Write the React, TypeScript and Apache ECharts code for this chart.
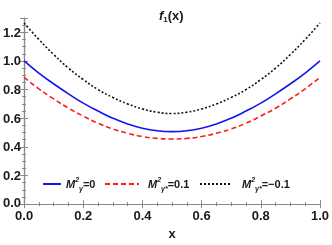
import React, { useEffect, useRef } from "react";
import * as echarts from "echarts";

const xs = [0, 0.05, 0.1, 0.15, 0.2, 0.25, 0.3, 0.35, 0.4, 0.45, 0.5, 0.55, 0.6, 0.65, 0.7, 0.75, 0.8, 0.85, 0.9, 0.95, 1.0];
const blueVals = [1.0, 0.915, 0.84, 0.77, 0.705, 0.65, 0.6, 0.56, 0.53, 0.512, 0.506, 0.512, 0.53, 0.56, 0.6, 0.65, 0.705, 0.77, 0.84, 0.915, 1.0];
const redVals = [0.885, 0.805, 0.735, 0.67, 0.615, 0.565, 0.525, 0.495, 0.472, 0.459, 0.455, 0.459, 0.472, 0.495, 0.525, 0.565, 0.615, 0.67, 0.735, 0.805, 0.885];
const blackVals = [1.265, 1.15, 1.045, 0.95, 0.87, 0.8, 0.745, 0.7, 0.665, 0.642, 0.633, 0.642, 0.665, 0.7, 0.745, 0.8, 0.87, 0.95, 1.045, 1.15, 1.265];
const seriesNames = ["M2g=0", "M2gs=0.1", "M2gs=-0.1"];
const legendTexts = ["{m|M}{sp|2}{sb|γ}{t|=0}", "{m|M}{sp|2}{sb|γ*}{t|=0.1}", "{m|M}{sp|2}{sb|γ*}{t|=−0.1}"];

const FONT = "Liberation Sans";
const FRAME = "#8a8a8a";
const INK = "#1a1a1a";

const richStyles = {
  m: { fontFamily: FONT, fontStyle: "italic", fontWeight: "bold", fontSize: 11, color: INK, lineHeight: 16 },
  sp: { fontFamily: FONT, fontStyle: "italic", fontWeight: "bold", fontSize: 7, color: INK, verticalAlign: "top", lineHeight: 16 },
  sb: { fontFamily: FONT, fontStyle: "italic", fontWeight: "bold", fontSize: 7, color: INK, verticalAlign: "bottom", lineHeight: 16 },
  t: { fontFamily: FONT, fontWeight: "bold", fontSize: 11, color: INK, lineHeight: 16 },
};

export default function App() {
  const ref = useRef<HTMLDivElement>(null);
  useEffect(() => {
    if (!ref.current) return;
    const chart = echarts.init(ref.current, undefined, { renderer: "svg" });
    const mk = (vals: number[]) => xs.map((x, i) => [x, vals[i]]);
    const axisCommon = {
      min: 0,
      axisLine: { show: true, lineStyle: { color: FRAME, width: 1.2 } },
      axisTick: { show: true, inside: true, length: 4, lineStyle: { color: FRAME } },
      minorTick: { show: true, splitNumber: 4, length: 2, lineStyle: { color: FRAME } },
      splitLine: { show: false },
    };
    const labelStyle = { fontFamily: FONT, fontWeight: "bold", fontSize: 13, color: INK };
    const legendPos = [
      { left: 42, w: 18, pad: 0 },
      { left: 104, w: 34, pad: 4 },
      { left: 199, w: 31, pad: 6 },
    ];
    chart.setOption({
      animation: false,
      grid: { left: 22, right: 10, top: 18, bottom: 39 },
      title: {
        text: "{f|f}{s|1}{p|(x)}",
        left: 154,
        top: 2,
        textStyle: {
          rich: {
            f: { fontFamily: FONT, fontStyle: "italic", fontWeight: "bold", fontSize: 13, color: INK, lineHeight: 16 },
            s: { fontFamily: FONT, fontWeight: "bold", fontSize: 8, color: INK, verticalAlign: "bottom", lineHeight: 16 },
            p: { fontFamily: FONT, fontWeight: "bold", fontSize: 13, color: INK, lineHeight: 16 },
          },
        },
      },
      legend: legendPos.map((p, i) => ({
        data: [seriesNames[i]],
        left: p.left,
        top: 176,
        itemWidth: p.w,
        itemHeight: 10,
        itemGap: 0,
        padding: 0,
        itemStyle: { opacity: 0 },
        formatter: () => legendTexts[i],
        textStyle: {
          rich: {
            ...richStyles,
            m: { ...richStyles.m, padding: [0, 0, 0, p.pad] },
          },
        },
      })),
      xAxis: [
        {
          ...axisCommon,
          type: "value",
          position: "bottom",
          max: 1,
          interval: 0.2,
          axisLabel: { ...labelStyle, margin: 5, lineHeight: 13, formatter: (v: number) => v.toFixed(1) },
          name: "x",
          nameLocation: "middle",
          nameGap: 21,
          nameTextStyle: { fontFamily: FONT, fontWeight: "bold", fontSize: 13, color: INK },
        },
        {
          ...axisCommon,
          type: "value",
          position: "top",
          max: 1,
          interval: 0.2,
          axisLabel: { show: false },
        },
      ],
      yAxis: [
        {
          ...axisCommon,
          type: "value",
          position: "left",
          max: 1.3,
          interval: 0.2,
          axisLabel: {
            ...labelStyle,
            margin: 3,
            lineHeight: 13,
            formatter: (v: number) =>
              Math.abs(v - 1.3) < 1e-6 ? "" : v === 0 ? "{z|0.0}" : v.toFixed(1),
            rich: {
              z: { fontFamily: FONT, fontWeight: "bold", fontSize: 13, color: INK, lineHeight: 12, padding: [0, 0, 3, 0] },
            },
          },
        },
        {
          ...axisCommon,
          type: "value",
          position: "right",
          max: 1.3,
          interval: 0.2,
          axisLabel: { show: false },
        },
      ],
      series: [
        {
          name: seriesNames[0],
          type: "line",
          data: mk(blueVals),
          smooth: true,
          symbol: "none",
          lineStyle: { color: "#1414f0", width: 1.6 },
          itemStyle: { color: "#1414f0" },
        },
        {
          name: seriesNames[1],
          type: "line",
          data: mk(redVals),
          smooth: true,
          symbol: "none",
          lineStyle: { color: "#ff1a1a", width: 1.6, type: [5, 3] },
          itemStyle: { color: "#ff1a1a" },
        },
        {
          name: seriesNames[2],
          type: "line",
          data: mk(blackVals),
          smooth: true,
          symbol: "none",
          lineStyle: { color: "#111", width: 1.6, type: [2, 2] },
          itemStyle: { color: "#111" },
        },
      ],
    });
    return () => chart.dispose();
  }, []);
  return <div ref={ref} style={{ position: "fixed", left: 0, top: 0, width: 332, height: 245 }} />;
}
